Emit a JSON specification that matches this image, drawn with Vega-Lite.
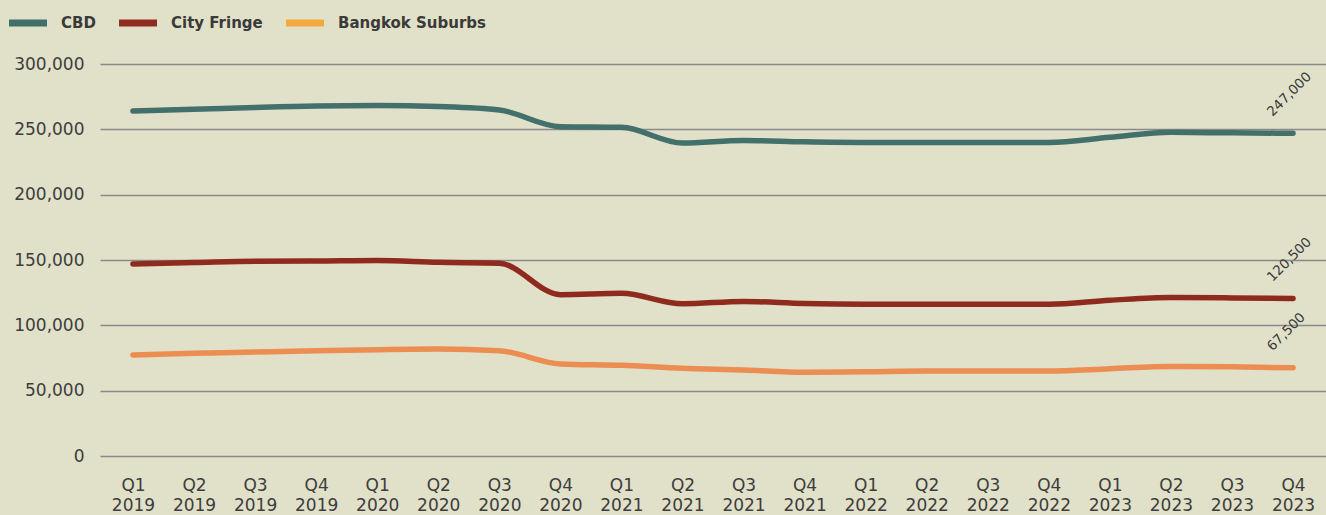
{
  "$schema": "https://vega.github.io/schema/vega-lite/v6.json",
  "width": 1226,
  "height": 392,
  "autosize": {"type": "none"},
  "padding": {"left": 100, "top": 64, "right": 0, "bottom": 59},
  "background": "#e1e1c9",
  "config": {"view": {"stroke": null}, "font": "DejaVu Sans"},
  "datasets": {
    "rows": [
      {"q": "Q1 2019", "series": "CBD", "value": 264000},
      {"q": "Q2 2019", "series": "CBD", "value": 265300},
      {"q": "Q3 2019", "series": "CBD", "value": 266800},
      {"q": "Q4 2019", "series": "CBD", "value": 267900},
      {"q": "Q1 2020", "series": "CBD", "value": 268200},
      {"q": "Q2 2020", "series": "CBD", "value": 267400},
      {"q": "Q3 2020", "series": "CBD", "value": 264800},
      {"q": "Q4 2020", "series": "CBD", "value": 252000},
      {"q": "Q1 2021", "series": "CBD", "value": 251500},
      {"q": "Q2 2021", "series": "CBD", "value": 239500},
      {"q": "Q3 2021", "series": "CBD", "value": 241500},
      {"q": "Q4 2021", "series": "CBD", "value": 240500},
      {"q": "Q1 2022", "series": "CBD", "value": 240000},
      {"q": "Q2 2022", "series": "CBD", "value": 240000},
      {"q": "Q3 2022", "series": "CBD", "value": 240000},
      {"q": "Q4 2022", "series": "CBD", "value": 240000},
      {"q": "Q1 2023", "series": "CBD", "value": 243900},
      {"q": "Q2 2023", "series": "CBD", "value": 247700},
      {"q": "Q3 2023", "series": "CBD", "value": 247300},
      {"q": "Q4 2023", "series": "CBD", "value": 247000},
      {"q": "Q1 2019", "series": "City Fringe", "value": 147000},
      {"q": "Q2 2019", "series": "City Fringe", "value": 148000},
      {"q": "Q3 2019", "series": "City Fringe", "value": 149000},
      {"q": "Q4 2019", "series": "City Fringe", "value": 149200},
      {"q": "Q1 2020", "series": "City Fringe", "value": 149700},
      {"q": "Q2 2020", "series": "City Fringe", "value": 148200},
      {"q": "Q3 2020", "series": "City Fringe", "value": 147500},
      {"q": "Q4 2020", "series": "City Fringe", "value": 123500},
      {"q": "Q1 2021", "series": "City Fringe", "value": 124500},
      {"q": "Q2 2021", "series": "City Fringe", "value": 116500},
      {"q": "Q3 2021", "series": "City Fringe", "value": 118300},
      {"q": "Q4 2021", "series": "City Fringe", "value": 116700},
      {"q": "Q1 2022", "series": "City Fringe", "value": 116200},
      {"q": "Q2 2022", "series": "City Fringe", "value": 116200},
      {"q": "Q3 2022", "series": "City Fringe", "value": 116200},
      {"q": "Q4 2022", "series": "City Fringe", "value": 116200},
      {"q": "Q1 2023", "series": "City Fringe", "value": 119200},
      {"q": "Q2 2023", "series": "City Fringe", "value": 121300},
      {"q": "Q3 2023", "series": "City Fringe", "value": 121000},
      {"q": "Q4 2023", "series": "City Fringe", "value": 120500},
      {"q": "Q1 2019", "series": "Bangkok Suburbs", "value": 77300},
      {"q": "Q2 2019", "series": "Bangkok Suburbs", "value": 78600},
      {"q": "Q3 2019", "series": "Bangkok Suburbs", "value": 79600},
      {"q": "Q4 2019", "series": "Bangkok Suburbs", "value": 80600},
      {"q": "Q1 2020", "series": "Bangkok Suburbs", "value": 81400},
      {"q": "Q2 2020", "series": "Bangkok Suburbs", "value": 81900},
      {"q": "Q3 2020", "series": "Bangkok Suburbs", "value": 80600},
      {"q": "Q4 2020", "series": "Bangkok Suburbs", "value": 70500},
      {"q": "Q1 2021", "series": "Bangkok Suburbs", "value": 69400},
      {"q": "Q2 2021", "series": "Bangkok Suburbs", "value": 67100},
      {"q": "Q3 2021", "series": "Bangkok Suburbs", "value": 65800},
      {"q": "Q4 2021", "series": "Bangkok Suburbs", "value": 64000},
      {"q": "Q1 2022", "series": "Bangkok Suburbs", "value": 64400},
      {"q": "Q2 2022", "series": "Bangkok Suburbs", "value": 65000},
      {"q": "Q3 2022", "series": "Bangkok Suburbs", "value": 65000},
      {"q": "Q4 2022", "series": "Bangkok Suburbs", "value": 65000},
      {"q": "Q1 2023", "series": "Bangkok Suburbs", "value": 66800},
      {"q": "Q2 2023", "series": "Bangkok Suburbs", "value": 68500},
      {"q": "Q3 2023", "series": "Bangkok Suburbs", "value": 68300},
      {"q": "Q4 2023", "series": "Bangkok Suburbs", "value": 67500}
    ]
  },
  "data": {"name": "rows"},
  "encoding": {
    "x": {
      "field": "q",
      "type": "ordinal",
      "sort": null,
      "scale": {"type": "point", "padding": 0.54},
      "axis": {
        "title": null,
        "labelExpr": "split(datum.label, ' ')",
        "labelAngle": 0,
        "labelOverlap": false,
        "domain": false,
        "ticks": false,
        "grid": false,
        "labelFontSize": 17,
        "labelColor": "#3d3d3d",
        "labelPadding": 21,
        "labelLineHeight": 20,
        "labelBaseline": "top"
      }
    },
    "y": {
      "field": "value",
      "type": "quantitative",
      "scale": {"domain": [0, 300000]},
      "axis": {
        "title": null,
        "values": [0, 50000, 100000, 150000, 200000, 250000, 300000],
        "format": ",d",
        "domain": false,
        "ticks": false,
        "labelPadding": 16,
        "labelFontSize": 17,
        "labelColor": "#3d3d3d",
        "gridColor": "#8a8a8a",
        "gridWidth": 1.5
      }
    }
  },
  "layer": [
    {
      "mark": {"type": "line", "strokeWidth": 5.5, "strokeCap": "round", "strokeJoin": "round", "interpolate": "monotone"},
      "encoding": {
        "color": {
          "field": "series",
          "type": "nominal",
          "scale": {"domain": ["Bangkok Suburbs", "CBD", "City Fringe"], "range": ["#ec8d52", "#44706c", "#8f2b1e"]},
          "legend": null
        }
      }
    },
    {
      "mark": {"type": "point", "filled": true, "size": 1, "opacity": 0},
      "encoding": {
        "fill": {
          "field": "series",
          "type": "nominal",
          "scale": {"domain": ["CBD", "City Fringe", "Bangkok Suburbs"], "range": ["#41706b", "#902c1e", "#f5a93c"]},
          "legend": {
            "orient": "none",
            "legendX": -91,
            "legendY": -60,
            "direction": "horizontal",
            "title": null,
            "symbolType": "M-1,-0.18H1V0.18H-1Z",
            "symbolSize": 1444,
            "symbolStrokeWidth": 0,
            "symbolOpacity": 1,
            "labelFont": "DejaVu Sans",
            "labelFontWeight": "bold",
            "labelFontSize": 15,
            "labelColor": "#3a3a3a",
            "labelOffset": 14,
            "columnPadding": 23,
            "padding": 0
          }
        }
      }
    },
    {
      "transform": [{"filter": "datum.q === 'Q4 2023'"}],
      "mark": {"type": "text", "angle": -45, "align": "left", "baseline": "alphabetic", "dx": -3, "dy": -26, "fontSize": 13.5, "color": "#3a3a3a"},
      "encoding": {"text": {"field": "value", "type": "quantitative", "format": ",d"}}
    }
  ]
}
